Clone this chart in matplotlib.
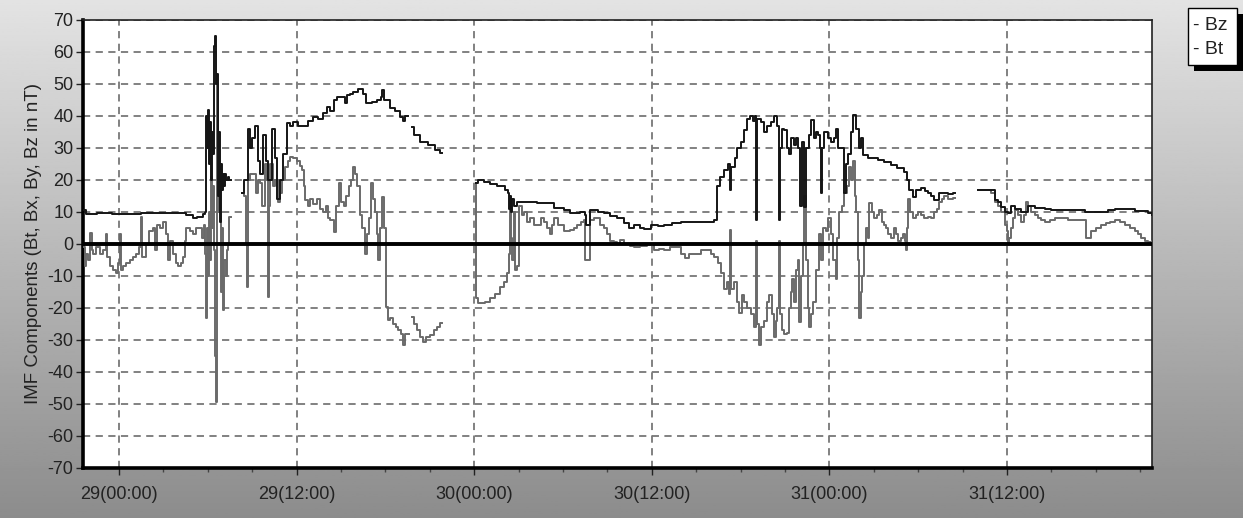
import numpy as np
import matplotlib
matplotlib.use("Agg")
import matplotlib.pyplot as plt
from matplotlib.patches import Rectangle
from matplotlib.ticker import MultipleLocator

nan = np.nan

# Time in hours from 29(00:00)
bt_t = [-2.43, -2.2, -1.5, -0.5, 0.5, 1.5, 2.5, 3.5, 4.5, 5.0, 5.3, 5.68, 5.81, 5.88, 5.95, 6.01, 6.08, 6.15,
        6.22, 6.28, 6.35, 6.42, 6.49, 6.55, 6.62, 6.69, 6.76, 6.82, 6.89, 6.96, 7.03, 7.09, 7.16, 7.23, 7.36, 7.43,
        7.6,
        8.31, 8.45, 8.72, 8.85, 8.99, 9.19, 9.39, 9.53, 9.73, 9.93, 10.07, 10.34, 10.54, 10.68, 10.88, 11.08, 11.35,
        11.55, 11.76, 12.09, 12.43, 12.77, 13.11, 13.45, 13.78, 14.05, 14.26, 14.53, 14.73, 15.07, 15.27, 15.41,
        15.61, 15.81, 16.15, 16.49, 16.69, 16.82, 17.09, 17.43, 17.70, 17.77, 17.91, 18.31, 18.65, 18.99, 19.19,
        19.32, 19.5,
        19.80, 19.93, 20.34, 20.88, 21.35, 21.69, 21.8,
        24.12, 24.26, 24.66, 25.07, 25.54, 26.08, 26.28, 26.35, 26.42, 26.49, 26.55, 26.69, 26.89, 27.36, 28.24,
        29.39, 30.07, 30.47, 31.15, 31.49, 31.55, 31.76, 31.82, 32.36, 32.77, 33.18, 33.65, 34.12, 34.46, 34.80,
        35.20, 35.47, 35.95, 36.42, 36.82, 37.36, 37.97, 38.58, 39.05, 39.59, 40.20, 40.41, 40.61, 40.88, 41.15,
        41.28, 41.35, 41.62, 41.76, 42.03, 42.23, 42.43, 42.64, 42.84, 42.97, 43.04, 43.11, 43.38, 43.58, 43.78,
        44.05, 44.26, 44.46, 44.59, 44.66, 44.80, 44.93, 45.14, 45.27, 45.41, 45.61, 45.74, 45.88, 46.01, 46.15,
        46.28, 46.42, 46.62, 46.76, 46.96, 47.09, 47.23, 47.36, 47.43, 47.50, 47.64, 47.91, 48.11, 48.31, 48.45,
        48.58, 48.78, 48.99, 49.12, 49.26, 49.46, 49.59, 49.80, 50.00, 50.14, 50.27, 50.61, 51.28, 51.69, 52.16,
        52.57, 53.04, 53.24, 53.38, 53.65, 53.85, 54.19, 54.46, 54.66, 54.86, 55.07, 55.41, 55.74, 56.01, 56.35,
        56.5,
        58.04, 58.51, 58.92, 59.19, 59.39, 59.59, 59.86, 60.07, 60.27, 60.54, 60.95, 61.42, 61.89, 62.57, 62.97,
        64.12, 65.27, 66.35, 66.82, 67.30, 67.97, 68.65, 69.53, 69.80]
bt_v = [10.6, 9.5, 9.7, 9.5, 9.3, 9.7, 9.6, 9.8, 9.2, 8.2, 8.5, 9.5, 10, 40, 30, 42, 25, 38,
        20, 35, 28, 62, 65, 50, 53, 15, 35, 7, 25, 17, 22, 18, 22, 20, 21, 20,
        nan,
        16, 20, 36, 30, 33, 37, 26, 22, 34, 26, 20, 36, 27, 14, 20, 28, 37.7,
        37, 38, 37, 37, 38.5, 39.7, 39, 41, 42.8, 41.5, 45, 46, 46, 44, 46.5,
        47, 47.5, 48.5, 47, 44, 44, 44.5, 45, 46, 48, 45, 42.5, 41.5, 39.7, 38.5,
        40, nan,
        36.6, 34, 32, 31, 29.5, 28.4, nan,
        19, 20, 19.5, 18.8, 18, 17, 16, 11, 15, 10, 14, 12, 13, 13, 12.7,
        11.2, 10.6, 9.6, 10, 9, 6, 6, 10.6, 10, 9.6, 8.8, 8, 6.5, 5, 6,
        5, 4.7, 6, 5.5, 6, 6.5, 7, 6.8, 7, 7, 7.5, 18, 21, 23, 25,
        17, 24, 27, 30, 32, 35.6, 39, 40, 38.5, 40, 7.5, 39, 38, 35, 37,
        38, 40, 37, 7.5, 30, 36, 35.6, 30, 28, 33, 31, 33, 30, 12, 32,
        11.5, 30, 34, 38.7, 33, 35, 34, 30, 16, 30, 35, 33, 32, 33, 36,
        30, 30, 16, 25, 28, 35, 40.3, 36, 30, 33, 27.8, 27, 26.3, 25.6, 24.7,
        23.8, 22.5, 20, 17, 14.8, 17, 17.5, 16.5, 16, 15, 13.7, 16, 16, 15.5, 16,
        nan,
        17, 17, 17, 13.7, 13, 11.5, 10, 9.6, 12, 11, 10, 12, 11.2, 10.8, 10.6,
        10.6, 10, 10, 10.5, 11, 10.8, 10.3, 9.6, 9]

bz_t = [-2.43, -2.30, -2.23, -2.09, -1.96, -1.82, -1.76, -1.55, -1.28, -1.08, -0.88, -0.81, -0.61, -0.41, -0.20,
        -0.07, 0.07, 0.14, 0.27, 0.47, 0.74, 0.95, 1.15, 1.35, 1.49, 1.55, 1.82, 2.03, 2.30, 2.43, 2.57, 2.77,
        2.97, 3.18, 3.31, 3.45, 3.65, 3.85, 3.99, 4.19, 4.32, 4.46, 4.53, 4.80, 5.00, 5.20, 5.47, 5.61, 5.74,
        5.81, 5.88, 5.95, 6.01, 6.08, 6.15, 6.22, 6.28, 6.35, 6.42, 6.49, 6.55, 6.62, 6.69, 6.76, 6.82, 6.89,
        6.96, 7.03, 7.09, 7.23, 7.30, 7.36, 7.43, 7.6,
        8.31, 8.45, 8.58, 8.65, 8.72, 8.85, 9.05, 9.26, 9.39, 9.53, 9.66, 9.86, 10.00, 10.07, 10.14, 10.20,
        10.41, 10.54, 10.74, 10.88, 11.01, 11.22, 11.42, 11.55, 11.76, 12.03, 12.23, 12.36, 12.50, 12.57, 12.77,
        12.91, 13.11, 13.38, 13.58, 13.78, 13.99, 14.12, 14.26, 14.53, 14.66, 14.86, 15.00, 15.20, 15.34, 15.54,
        15.68, 15.81, 15.95, 16.08, 16.28, 16.42, 16.62, 16.76, 16.89, 17.03, 17.16, 17.30, 17.43, 17.50, 17.64,
        17.77, 17.91, 18.04, 18.18, 18.31, 18.51, 18.72, 18.85, 19.05, 19.19, 19.32, 19.46, 19.6,
        19.80, 19.93, 20.14, 20.34, 20.54, 20.74, 21.01, 21.28, 21.49, 21.69, 21.8,
        24.12, 24.15, 24.26, 24.39, 24.73, 25.07, 25.41, 25.74, 26.01, 26.22, 26.35, 26.42, 26.49, 26.55, 26.69,
        26.76, 26.89, 27.03, 27.23, 27.36, 27.57, 27.77, 28.04, 28.24, 28.51, 28.72, 28.92, 29.12, 29.26, 29.39,
        29.66, 30.07, 30.47, 30.74, 30.95, 31.22, 31.42, 31.49, 31.82, 31.85, 32.09, 32.30, 32.50, 32.77, 32.97,
        33.18, 33.45, 33.65, 33.85, 34.12, 34.53, 34.80, 35.20, 35.68, 36.15, 36.49, 36.82, 37.23, 37.57, 37.97,
        38.24, 38.51, 38.92, 39.32, 39.59, 40.00, 40.20, 40.47, 40.68, 40.88, 41.08, 41.22, 41.28, 41.35, 41.55,
        41.76, 41.89, 42.09, 42.23, 42.43, 42.70, 42.91, 43.04, 43.11, 43.24, 43.38, 43.58, 43.78, 43.92, 44.12,
        44.26, 44.39, 44.46, 44.59, 44.66, 44.80, 44.93, 45.14, 45.27, 45.41, 45.47, 45.61, 45.74, 45.88, 45.95,
        46.08, 46.22, 46.28, 46.42, 46.55, 46.62, 46.76, 46.89, 47.09, 47.30, 47.43, 47.57, 47.77, 47.91, 48.11,
        48.24, 48.45, 48.51, 48.65, 48.85, 48.99, 49.19, 49.32, 49.46, 49.59, 49.73, 49.80, 49.93, 50.00, 50.14,
        50.20, 50.34, 50.47, 50.61, 50.68, 50.88, 51.01, 51.22, 51.35, 51.55, 51.69, 51.82, 51.96, 52.16, 52.36,
        52.50, 52.64, 52.84, 52.97, 53.11, 53.18, 53.24, 53.31, 53.45, 53.65, 53.85, 53.99, 54.19, 54.39, 54.66,
        54.86, 55.07, 55.27, 55.41, 55.61, 55.74, 56.01, 56.35, 56.5,
        58.04, 58.51, 58.92, 59.19, 59.39, 59.59, 59.86, 60.00, 60.07, 60.14, 60.27, 60.41, 60.54, 60.74, 60.95,
        61.15, 61.28, 61.42, 61.62, 61.89, 62.09, 62.30, 62.57, 62.91, 63.24, 63.58, 64.12, 64.59, 65.27, 65.34,
        65.68, 66.01, 66.35, 66.69, 66.96, 67.30, 67.64, 67.97, 68.31, 68.65, 68.85, 69.05, 69.32, 69.53, 69.80]
bz_v = [-1, -7, -3, -5, 3.4, -2, -3, -1, -3, -2, 3, -4, -7, -8, -9,
        -6, 3, -8, -7, -6, -5, -4, -3, -1, 8.4, -4, 0, 4, 5, -2, 6, 5,
        7, 3, -5, 1, -3, -6, -7, -6, -4, 1, 5, 4, 3, 5, 5, 2, 6,
        -3, -23, 5, -10, 10, -5, 21, 5, 18, -2, -35, -49.5, 50, 10, 20, 10, -15,
        5, -20.6, -5, -10, -2, 0, 8.4, nan,
        16, 15, 0, -13.4, 20, 22, 22, 16, 20, 19, 12, 25, 20, -16.6, 12, 25,
        18, 20, 13, 16, 20, 24, 26, 27.2, 27, 26, 24.5, 23, 18, 13.7, 12,
        14, 12.5, 14, 11, 10, 12, 8, 7.5, 3.7, 12, 19, 13, 12, 15, 18,
        20, 24, 22, 18, 9, 5, -3, 3, 8, 19, 14, 10, 3, -5, 5,
        14.7, 5, -19.7, -23.8, -23, -25, -26, -27, -28, -31.6, -28, -28, nan,
        -22.8, -25, -27, -29, -30.6, -29, -28.5, -27, -26, -24.8, nan,
        19, -17, -18.5, -18.5, -18, -17, -15.5, -13.4, -12, -9, -3, 13.7, 2, -5, 10,
        -8, -7, 12, 9, 10, 7, 8, 6, 6, 8, 7, 5, 3, 6, 8,
        6, 4, 4.4, 5, 6, 7, 7.5, -5, -5, 7.5, 8, 8, 6, 5, 3,
        1, 0.5, 0, 1.2, 0, -0.5, -1, -0.5, 0, -2, -1.5, -2, -1, -1, -3,
        -4.5, -3, -3, -2, -2, -3, -4, -6, -9, -14, -12, -15.5, 4.4, -14, -12,
        -18, -21.6, -16, -18, -20, -22, -26, 1, -25, -31.6, -26, -24, -18, -16, -22,
        -29, -24, -20, 1, -22, -27, -28, -27.8, -20, -15, -11, -18, -8, -5, -24.4,
        -10, 0, 15, -5, -20, -26, -22, -18, -8, 3, -5, 5, 4, 8, 3,
        -5, -11, 2, 10, 12, 16, 18, 24, 20, 26, 15, 10, -5, -23, -15,
        -10, 0, 5, 2, 12.7, 10, 8, 9, 10.6, 7, 6, 5, 3, 2, 5,
        3, 1, 2, 3, 1, -2, 5, 14, 10, 8, 9, 10, 9, 8, 8.5,
        8, 10, 11, 13, 14, 15, 14, 14.5, nan,
        17, 17, 16, 13, 12, 10, 6, 4, 0, 2, 5, 8, 10.6, 9, 7,
        9, 13, 12, 10, 9, 8, 7.5, 7, 7.5, 8, 8, 7.5, 7.5, 7.5, 2,
        4, 5, 6, 6.5, 7, 7.5, 7, 6, 5, 4, 3, 2, 1, 0.5, 1]

y_ticks = list(range(-70, 71, 10))
x_tick_hours = [0, 12, 24, 36, 48, 60]
x_tick_labels = ["29(00:00)", "29(12:00)", "30(00:00)", "30(12:00)", "31(00:00)", "31(12:00)"]
legend_labels = ["- Bz", "- Bt"]
y_label = "IMF Components (Bt, Bx, By, Bz in nT)"

plt.rcParams['font.family'] = ['Liberation Sans', 'DejaVu Sans']

W, H = 1243, 518
fig = plt.figure(figsize=(W / 100, H / 100), dpi=100)

# gradient background
bg = fig.add_axes([0, 0, 1, 1], zorder=-10)
grad = np.linspace(0.89, 0.55, 256).reshape(-1, 1)
bg.imshow(np.repeat(grad, 2, axis=1), aspect='auto', cmap='gray', vmin=0, vmax=1,
          extent=[0, 1, 0, 1], origin='upper')
bg.set_axis_off()

L, R, T, B = 83, 1152, 20, 468
ax = fig.add_axes([L / W, 1 - B / H, (R - L) / W, (B - T) / H])
ax.set_facecolor('white')

ax.plot(bz_t, bz_v, color='#6a6a6a', lw=1.4, drawstyle='steps-post', zorder=3)
ax.plot(bt_t, bt_v, color='#151515', lw=1.4, drawstyle='steps-post', zorder=4)
ax.axhline(0, color='black', lw=2.8, zorder=5)

ax.set_xlim(-2.43, 69.8)
ax.set_ylim(-70, 70)
ax.set_yticks(y_ticks)
ax.set_yticklabels([str(v) for v in y_ticks])
ax.set_xticks(x_tick_hours)
ax.set_xticklabels(x_tick_labels)
ax.xaxis.set_minor_locator(MultipleLocator(3))

ax.grid(True, which='major', color='#777777', lw=1.3, ls=(0, (4, 3)))
ax.set_axisbelow(True)

ax.tick_params(axis='both', which='major', length=5, width=1, color='#222222',
               labelsize=13, labelcolor='#222222', pad=2)
ax.tick_params(axis='x', which='minor', length=3, width=1, color='#444444')
ax.tick_params(axis='x', which='major', pad=8)

for side in ['top', 'right']:
    ax.spines[side].set_linewidth(1.2)
    ax.spines[side].set_color('#222222')
for side in ['left', 'bottom']:
    ax.spines[side].set_linewidth(2.6)
    ax.spines[side].set_color('black')

ax.set_ylabel(y_label, fontsize=13.5, color='#222222', labelpad=4)

# legend box (outside plot, top-right) with drop shadow
def fx(px):
    return px / W

def fy(py):
    return 1 - py / H

lx0, ly0, lx1, ly1 = 1188, 8, 1237, 65
fig.patches.append(Rectangle((fx(lx0 + 6), fy(ly1 + 6)), fx(lx1 - lx0), (ly1 - ly0) / H,
                             transform=fig.transFigure, facecolor='black', edgecolor='none', zorder=1))
fig.patches.append(Rectangle((fx(lx0), fy(ly1)), fx(lx1 - lx0), (ly1 - ly0) / H,
                             transform=fig.transFigure, facecolor='white', edgecolor='black', lw=1.0, zorder=2))
fig.text(fx(1193), fy(25), legend_labels[0], fontsize=14, color='#222222', va='center', ha='left')
fig.text(fx(1193), fy(50), legend_labels[1], fontsize=14, color='#222222', va='center', ha='left')

fig.savefig('out.png', dpi=100)
